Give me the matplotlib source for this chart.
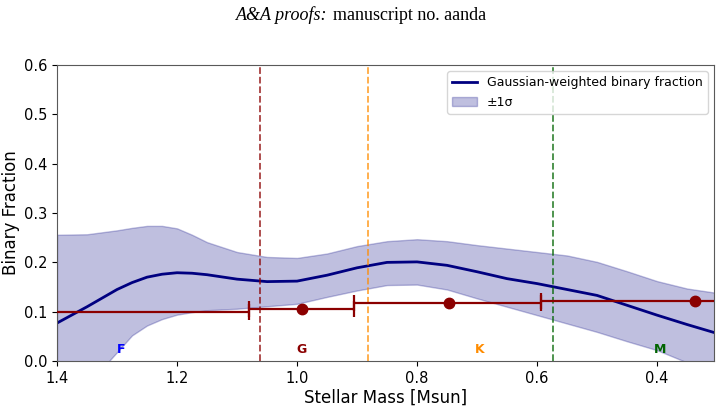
import numpy as np
import matplotlib
matplotlib.use("Agg")
import matplotlib.pyplot as plt

# Gaussian-weighted binary fraction curve
mass = [1.40, 1.35, 1.30, 1.275, 1.25, 1.225, 1.20, 1.175, 1.15, 1.10, 1.05, 1.00, 0.95, 0.90, 0.85,
        0.80, 0.75, 0.70, 0.65, 0.60, 0.55, 0.50, 0.45, 0.40, 0.35, 0.30]
frac = [0.077, 0.110, 0.145, 0.159, 0.170, 0.176, 0.179, 0.178, 0.175, 0.166, 0.161, 0.162, 0.174, 0.189, 0.200,
        0.201, 0.194, 0.181, 0.167, 0.157, 0.145, 0.133, 0.113, 0.093, 0.074, 0.056]
upper = [0.256, 0.257, 0.265, 0.270, 0.274, 0.274, 0.269, 0.256, 0.241, 0.221, 0.211, 0.209, 0.218, 0.233, 0.243,
         0.247, 0.243, 0.235, 0.228, 0.221, 0.214, 0.201, 0.182, 0.162, 0.147, 0.138]
lower = [-0.100, -0.050, 0.018, 0.052, 0.072, 0.085, 0.094, 0.099, 0.103, 0.106, 0.111, 0.116, 0.130, 0.143, 0.154,
         0.155, 0.145, 0.127, 0.110, 0.093, 0.076, 0.059, 0.040, 0.022, -0.003, -0.025]

# Binned points (spectral types)
bin_centers = [1.54, 0.992, 0.747, 0.337]
bin_hi = [2.00, 1.080, 0.905, 0.593]
bin_lo = [1.080, 0.905, 0.593, 0.080]
bin_frac = [0.099, 0.106, 0.117, 0.122]

# Spectral type boundaries
boundaries = [1.062, 0.882, 0.573]
boundary_colors = ["darkred", "darkorange", "darkgreen"]

# Type labels
type_labels = ["F", "G", "K", "M"]
type_x = [1.294, 0.993, 0.695, 0.395]
type_colors = ["blue", "darkred", "darkorange", "darkgreen"]

fig = plt.figure(figsize=(7.22, 4.07), dpi=100)
ax = fig.add_axes([0.079, 0.113, 0.910, 0.727])

ax.plot(mass, frac, color="navy", lw=2, label="Gaussian-weighted binary fraction")
ax.fill_between(mass, lower, upper, color="navy", alpha=0.25, label="±1σ")

xerr = [np.array(bin_centers) - np.array(bin_lo), np.array(bin_hi) - np.array(bin_centers)]
ax.errorbar(bin_centers, bin_frac, xerr=xerr, fmt="o", color="darkred", ms=7.5,
            capsize=5.5, elinewidth=1.6, capthick=1.6, zorder=5)

for b, c in zip(boundaries, boundary_colors):
    ax.axvline(b, color=c, ls="--", lw=1.3, alpha=0.75)

for t, xx, c in zip(type_labels, type_x, type_colors):
    ax.text(xx, 0.023, t, color=c, fontsize=9, fontweight="bold", ha="center", va="center")

ax.set_xlim(1.4, 0.305)
ax.set_ylim(0, 0.6)
ax.set_xticks([1.4, 1.2, 1.0, 0.8, 0.6, 0.4])
ax.set_xticklabels(["1.4", "1.2", "1.0", "0.8", "0.6", "0.4"])
ax.set_yticks([0.0, 0.1, 0.2, 0.3, 0.4, 0.5, 0.6])
ax.tick_params(labelsize=10.5)
ax.set_xlabel("Stellar Mass [Msun]", fontsize=12, labelpad=2)
ax.set_ylabel("Binary Fraction", fontsize=12, labelpad=3)
for s in ax.spines.values():
    s.set_color("0.35")
ax.legend(loc="upper right", fontsize=9)

fig.text(0.453, 0.963, "A&A proofs:", family="Liberation Serif", style="italic",
         fontsize=13, ha="right", va="center")
fig.text(0.461, 0.963, "manuscript no. aanda", family="Liberation Serif",
         fontsize=13, ha="left", va="center")

fig.savefig("out.png", dpi=100)
